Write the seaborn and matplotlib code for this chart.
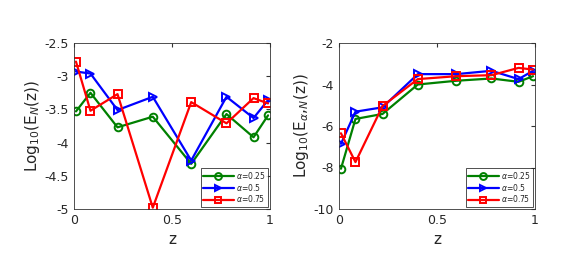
import matplotlib
matplotlib.use("Agg")
import matplotlib.pyplot as plt
import seaborn as sns
import pandas as pd

# nodes in z
z = [0.01, 0.084, 0.222, 0.402, 0.598, 0.778, 0.916, 0.99]

# left panel: Log10(E_N(z))
en_025 = [-3.53, -3.25, -3.77, -3.61, -4.32, -3.57, -3.92, -3.59]
en_050 = [-2.93, -2.96, -3.51, -3.31, -4.27, -3.31, -3.63, -3.36]
en_075 = [-2.78, -3.52, -3.27, -4.98, -3.39, -3.71, -3.33, -3.41]

# right panel: Log10(E_alpha,N(z))
ean_025 = [-8.06, -5.66, -5.42, -4.00, -3.82, -3.71, -3.87, -3.60]
ean_050 = [-6.86, -5.31, -5.10, -3.50, -3.50, -3.34, -3.74, -3.34]
ean_075 = [-6.35, -7.74, -5.04, -3.74, -3.60, -3.55, -3.20, -3.28]

labels = [r"$\alpha$=0.25", r"$\alpha$=0.5", r"$\alpha$=0.75"]
colors = ["#008000", "#0000ff", "#ff0000"]
markers = ["o", ">", "s"]

sns.set_style("white")
plt.rcParams["font.family"] = ["DejaVu Sans"]
plt.rcParams["text.color"] = "#262626"
plt.rcParams["axes.labelcolor"] = "#262626"

fig = plt.figure(figsize=(5.7, 2.57), dpi=100)
ax1 = fig.add_axes([74 / 570, 1 - 209 / 257, 196 / 570, 166 / 257])
ax2 = fig.add_axes([339 / 570, 1 - 209 / 257, 196 / 570, 166 / 257])

panels = [
    (ax1, [en_025, en_050, en_075], r"Log$_{10}$(E$_N$(z))", (-5, -2.5), [-5, -4.5, -4, -3.5, -3, -2.5]),
    (ax2, [ean_025, ean_050, ean_075], r"Log$_{10}$(E$_{\alpha}$,$_N$(z))", (-10, -2), [-10, -8, -6, -4, -2]),
]

for ax, series, ylab, ylim, yt in panels:
    for vals, lab, c, m in zip(series, labels, colors, markers):
        df = pd.DataFrame({"z": z, "v": vals})
        sns.lineplot(data=df, x="z", y="v", ax=ax, color=c, marker=m, markersize=5.5,
                     mfc="none", mec=c, mew=1.4, linewidth=1.6, label=lab)
    ax.set_xlim(0, 1)
    ax.set_ylim(*ylim)
    ax.set_xticks([0, 0.5, 1])
    ax.set_xticklabels(["0", "0.5", "1"])
    ax.set_yticks(yt)
    ax.set_yticklabels([f"{t:g}" for t in yt])
    ax.tick_params(direction="in", length=3, labelsize=9, top=True, right=True,
                   color="#333333", labelcolor="#262626")
    ax.set_xlabel("z", fontsize=11)
    ax.set_ylabel(ylab, fontsize=11, labelpad=2)
    for s in ax.spines.values():
        s.set_color("#333333")
        s.set_linewidth(0.6)
    leg = ax.legend(loc="lower right", fontsize=5.5, frameon=True, fancybox=False,
                    handlelength=4, borderpad=0.3, labelspacing=0.1, handletextpad=0.3,
                    borderaxespad=0.3, markerscale=0.9)
    leg.get_frame().set_edgecolor("black")
    leg.get_frame().set_linewidth(0.6)

fig.savefig("out.png", dpi=100)
